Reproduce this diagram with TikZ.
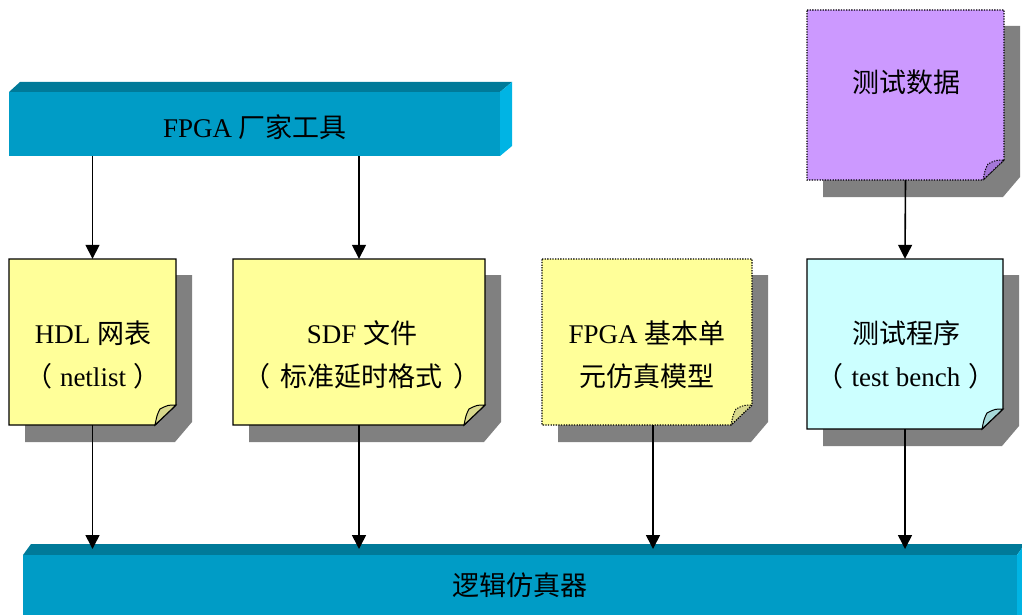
\documentclass[tikz,border=0pt]{standalone}
\usepackage{fontspec}
\setmainfont{Liberation Serif}
\newfontfamily\cjk{Noto Sans CJK SC}
\usetikzlibrary{calc,arrows.meta}
\definecolor{barfront}{HTML}{009CC6}
\definecolor{bartop}{HTML}{007A99}
\definecolor{barside}{HTML}{00B4E4}
\definecolor{noteyellow}{HTML}{FFFF99}
\definecolor{foldyellow}{HTML}{D9D98C}
\definecolor{notepurple}{HTML}{CC99FF}
\definecolor{foldpurple}{HTML}{A577D9}
\definecolor{notecyan}{HTML}{CCFFFF}
\definecolor{foldcyan}{HTML}{A6D9D9}
\definecolor{shadowc}{HTML}{808080}
\tikzset{
  txt/.style={font=\fontsize{27}{43}\selectfont, align=center, inner sep=0pt},
  solidedge/.style={draw=black, line width=1.4pt, line join=miter},
  dotedge/.style={draw=black, line width=1.3pt, dash pattern=on 1.3pt off 1.3pt},
  arr/.style={draw=black, line width=1.6pt, -{Triangle[length=14pt,width=14pt]}},
  blank/.style={inner sep=0pt, draw=none}
}
% #1 x1, #2 y1, #3 x2, #4 y2, #5 body style, #6 fold colour, #7 name
\newcommand\notebox[7]{%
  \fill[shadowc] ($(#1,#2)+(16,16)$) -- ($(#3,#2)+(16,16)$) -- ($(#3,#4)+(16,-3)$)
     -- ($(#3,#4)+(-1,17)$) -- ($(#1,#4)+(16,17)$) -- cycle;
  \path[#5] (#1,#2) -- (#3,#2) -- ($(#3,#4)+(0,-20)$) -- ($(#3,#4)+(-21,0)$) -- (#1,#4) -- cycle;
  \path[#5, fill=#6, line width=1pt] ($(#3,#4)+(-21,0)$) .. controls ($(#3,#4)+(-19,-10)$) .. ($(#3,#4)+(-16,-16)$)
     .. controls ($(#3,#4)+(-8,-20)$) .. ($(#3,#4)+(0,-20)$) -- cycle;
  \node[blank, minimum width={(#3-#1)*1pt}, minimum height={(#4-#2)*1pt}] (#7) at ({(#1+#3)/2},{(#2+#4)/2}) {};
}
\begin{document}
\begin{tikzpicture}[x=1pt,y=-1pt]
\useasboundingbox (0,0) rectangle (1022,615);
% top bar
\fill[bartop] (9,92) -- (20,82) -- (512,82) -- (500,92) -- cycle;
\fill[barside] (500,92) -- (512,82) -- (512,146) -- (500,156) -- cycle;
\node[blank, fill=barfront, minimum width=491pt, minimum height=64pt] (tool) at (254.5,124) {};
\node[txt] (tooltxt) at (255,127) {FPGA {\cjk 厂家工具}};
% bottom bar
\fill[bartop] (23,555) -- (31,544) -- (1022,544) -- (1022,548) -- (1017,555) -- cycle;
\fill[barside] (1017,555) -- (1022,548) -- (1022,615) -- (1017,615) -- cycle;
\node[blank, fill=barfront, minimum width=994pt, minimum height=60pt] (sim) at (520,585) {};
\coordinate (simtop) at (520,549);
\node[txt] (simtxt) at (520,585) {\cjk 逻辑仿真器};
% notes
\notebox{9}{259}{176}{425}{fill=noteyellow, solidedge}{foldyellow}{hdl}
\notebox{233}{259}{485}{425}{fill=noteyellow, solidedge}{foldyellow}{sdf}
\notebox{542}{259}{752}{425}{fill=noteyellow, dotedge}{foldyellow}{fpga}
\notebox{807}{259}{1003}{429}{fill=notecyan, solidedge}{foldcyan}{tb}
\notebox{807}{10}{1004}{180}{fill=notepurple, dotedge}{foldpurple}{data}
\node[txt] (hdltxt) at (93,355) {HDL {\cjk 网表}\\{\cjk （}\hspace{7.5pt}netlist\hspace{7.5pt}{\cjk ）}};
\node[txt] (sdftxt) at (362,355) {SDF {\cjk 文件}\\{\cjk （}\hspace{11pt}{\cjk 标准延时格式}\hspace{11pt}{\cjk ）}};
\node[txt] (fpgatxt) at (647,355) {FPGA {\cjk 基本单}\\{\cjk 元仿真模型}};
\node[txt] (tbtxt) at (906,355) {{\cjk 测试程序}\\{\cjk （}\hspace{8.5pt}test bench\hspace{8.5pt}{\cjk ）}};
\node[txt] (datatxt) at (906,82) {\cjk 测试数据};
% connectors
\draw[arr] (tool.south -| hdl.north) -- (hdl.north);
\draw[arr] (tool.south -| sdf.north) -- (sdf.north);
\draw[arr] (data.south) -- (tb.north);
\draw[arr] (hdl.south) -- (hdl.south |- simtop);
\draw[arr] (sdf.south) -- (sdf.south |- simtop);
\draw[arr] ([xshift=6pt]fpga.south) -- ([xshift=6pt]fpga.south |- simtop);
\draw[arr] (tb.south) -- (tb.south |- simtop);
\end{tikzpicture}
\end{document}
